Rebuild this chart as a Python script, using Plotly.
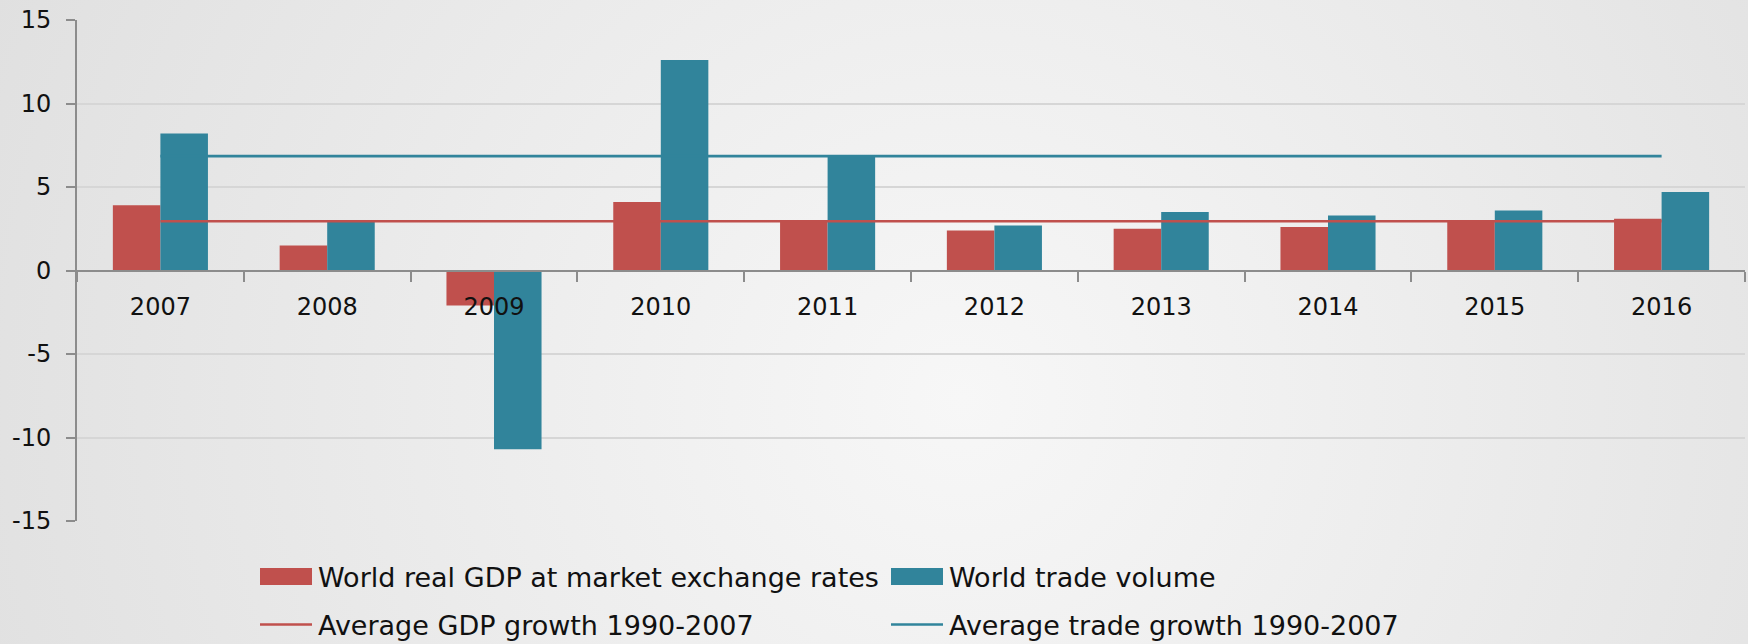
import base64
import plotly.graph_objects as go

years = ["2007", "2008", "2009", "2010", "2011", "2012", "2013", "2014", "2015", "2016"]
gdp_growth = [3.9, 1.5, -2.1, 4.1, 3.0, 2.4, 2.5, 2.6, 2.9, 3.1]
trade_growth = [8.2, 2.9, -10.7, 12.6, 6.9, 2.7, 3.5, 3.3, 3.6, 4.7]
avg_gdp_1990_2007 = 2.95
avg_trade_1990_2007 = 6.85
y_ticks = [-15, -10, -5, 0, 5, 10, 15]
y_tick_labels = ["-15", "-10", "-5", "0", "5", "10", "15"]

RED = "#C0504D"
TEAL = "#31849B"
FONT = "DejaVu Sans"

W, H = 1748, 644
L, R, T, B = 77, 3, 20, 123
pw, ph = W - L - R, H - T - B

fig = go.Figure()
fig.add_trace(go.Bar(x=years, y=gdp_growth, name="World real GDP at market exchange rates",
                     marker=dict(color=RED, line=dict(width=0)), legend="legend"))
fig.add_trace(go.Bar(x=years, y=trade_growth, name="World trade volume",
                     marker=dict(color=TEAL, line=dict(width=0)), legend="legend"))
fig.add_trace(go.Scatter(x=years, y=[avg_gdp_1990_2007] * len(years), mode="lines",
                         name="Average GDP growth 1990-2007",
                         line=dict(color=RED, width=2.6), legend="legend2"))
fig.add_trace(go.Scatter(x=years, y=[avg_trade_1990_2007] * len(years), mode="lines",
                         name="Average trade growth 1990-2007",
                         line=dict(color=TEAL, width=2.6), legend="legend2"))

svg = (f'<svg xmlns="http://www.w3.org/2000/svg" width="{W}" height="{H}" '
       f'viewBox="0 0 {W} {H}" preserveAspectRatio="none">'
       '<defs><radialGradient id="g" gradientUnits="userSpaceOnUse" '
       f'cx="{W*0.55}" cy="{H*0.62}" r="{W*0.6}">'
       '<stop offset="0" stop-color="#f7f7f7"/><stop offset="1" stop-color="#e0e0e0"/>'
       '</radialGradient></defs>'
       f'<rect width="{W}" height="{H}" fill="url(#g)"/></svg>')
bg = "data:image/svg+xml;base64," + base64.b64encode(svg.encode()).decode()

legend_common = dict(orientation="h", xanchor="left", yanchor="middle",
                     font=dict(family=FONT, size=27, color="#111111"),
                     bgcolor="rgba(0,0,0,0)", entrywidth=586, entrywidthmode="pixels",
                     itemwidth=30, traceorder="normal")

fig.update_layout(
    width=W, height=H,
    margin=dict(l=L, r=R, t=T, b=B, autoexpand=False),
    paper_bgcolor="#e6e6e6",
    plot_bgcolor="rgba(0,0,0,0)",
    barmode="group",
    bargap=0.43,
    bargroupgap=0,
    font=dict(family=FONT, size=24, color="#111111"),
    images=[dict(source=bg, xref="paper", yref="paper",
                 x=-L / pw, y=1 + T / ph, sizex=W / pw, sizey=H / ph,
                 xanchor="left", yanchor="top", sizing="stretch", layer="below")],
    legend=dict(x=(278 - L) / pw, y=-(577 - T - ph) / ph, **legend_common),
    legend2=dict(x=(278 - L) / pw, y=-(625 - T - ph) / ph, **legend_common),
    xaxis=dict(
        type="category",
        anchor="free", position=0.5,
        showline=True, linecolor="#8c8c8c", linewidth=2,
        ticks="outside", tickson="boundaries", ticklen=10, tickwidth=2, tickcolor="#8c8c8c",
        ticklabelstandoff=15,
        showgrid=False, zeroline=False,
        tickfont=dict(family=FONT, size=24, color="#111111"),
    ),
    yaxis=dict(
        range=[-15, 15], tickvals=y_ticks, ticktext=y_tick_labels,
        showline=True, linecolor="#8c8c8c", linewidth=2,
        ticks="outside", ticklen=9, tickwidth=2, tickcolor="#8c8c8c",
        ticklabelstandoff=10,
        showgrid=True, gridcolor="#d6d6d6", gridwidth=1.5,
        zeroline=False,
        tickfont=dict(family=FONT, size=24, color="#111111"),
    ),
    showlegend=True,
)

# Widen the legend keys to the long Office-style swatches of the original chart
post = """
document.body.style.margin='0';
document.body.style.overflow='hidden';
var gd = document.getElementById('{plot_id}');
function fixLegend(){
  gd.querySelectorAll('g.scrollbox').forEach(function(s){
    try { if (s.hasAttribute('clip-path')) { s.removeAttribute('clip-path'); } } catch (e) {}
  });
  gd.querySelectorAll('g.legendpoints path').forEach(function(p){
    try {
      var d = p.getAttribute('d') || '';
      if (d.indexOf('M6,6H-6') === 0) {
        p.setAttribute('d', 'M-18,-8.5H34V8.5H-18Z');
        p.removeAttribute('transform');
      }
    } catch (e) {}
  });
  gd.querySelectorAll('g.legendlines path').forEach(function(p){
    try { if (p.getAttribute('d') !== 'M-18,0H34') { p.setAttribute('d', 'M-18,0H34'); } } catch (e) {}
  });
}
try { fixLegend(); } catch (e) {}
try { gd.on('plotly_afterplot', fixLegend); } catch (e) {}
[30, 100, 250, 500].forEach(function(ms){ setTimeout(fixLegend, ms); });
"""

fig.write_html("out.html", config={"displayModeBar": False}, post_script=post)
